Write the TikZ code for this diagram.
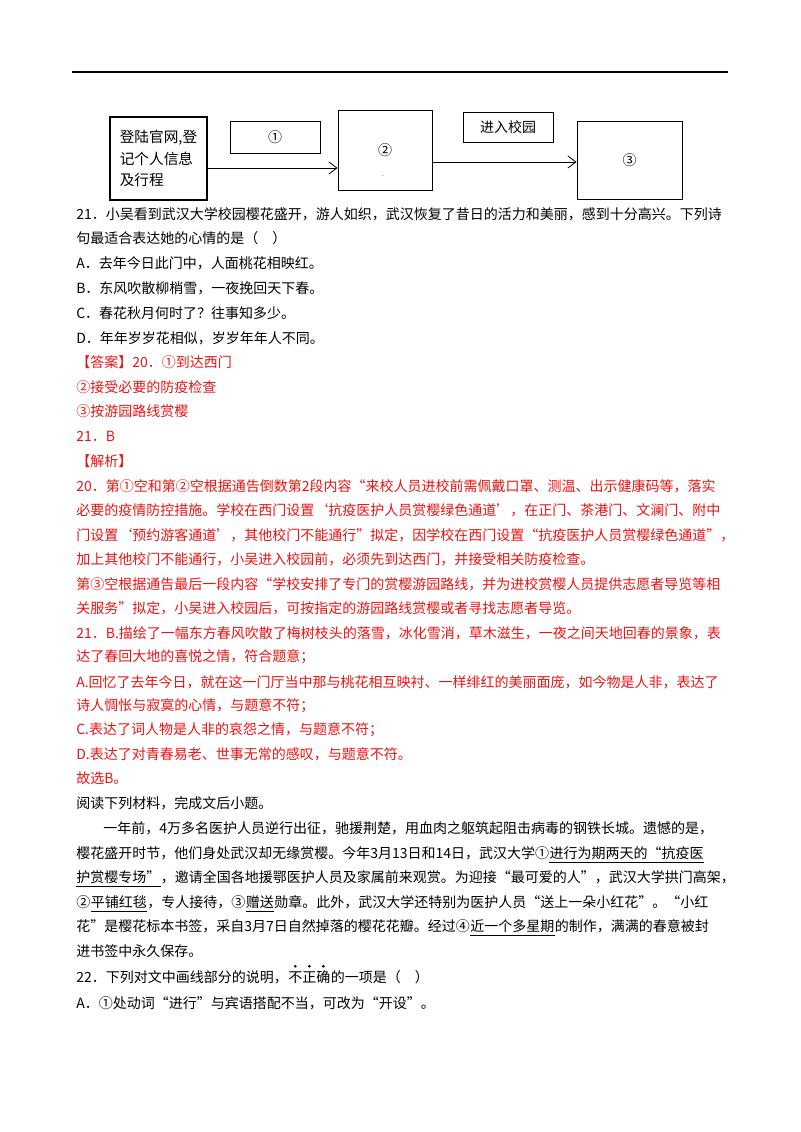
\documentclass[tikz,border=0pt]{standalone}
\usepackage{fontspec}
\setmainfont{Noto Sans CJK SC}
\usetikzlibrary{arrows.meta,positioning,calc}
\definecolor{ans}{RGB}{235,20,20}
\begin{document}
\begin{tikzpicture}[x=0.75pt,y=-0.75pt,
  ln/.style={anchor=west,inner sep=0pt,font=\fontsize{10.5pt}{12pt}\selectfont},
  rd/.style={ln,text=ans},
  seg/.style={anchor=west,inner sep=0pt,font=\fontsize{10.5pt}{12pt}\selectfont},
  bx/.style={draw,line width=0.7pt,inner sep=0pt,font=\fontsize{10.5pt}{12pt}\selectfont},
  arr/.style={draw,line width=0.6pt,-{Straight Barb[length=6pt,width=9pt]}}]
\useasboundingbox (0,0) rectangle (800,1132);
\fill[white] (0,0) rectangle (800,1132);
\draw[line width=1.2pt] (72,72) -- (728,72);
% diagram
\node[bx,line width=1.6pt,minimum width=72.75pt,minimum height=62.25pt,align=left,font=\fontsize{11pt}{16pt}\selectfont] (b1) at (158.5,158.5) {登陆官网,登\\记个人信息\\及行程};
\node[bx,minimum width=67.5pt,minimum height=24pt] (l1) at (275,137) {①};
\node[bx,minimum width=70.5pt,minimum height=60pt] (b2) at (385,150) {②};
\node[inner sep=0pt] (dot) at (383,176) {\tiny.};
\node[bx,minimum width=67.5pt,minimum height=22.5pt] (l2) at (508,127) {进入校园};
\node[bx,minimum width=78.75pt,minimum height=58.5pt] (b3) at (629.5,160) {③};
\draw[arr] (b1.east |- 0,168) -- (b2.west |- 0,168);
\draw[arr] (b2.east |- 0,162) -- (b3.west |- 0,162);
% text
\node[ln] (t1) at (76,214) {21．小吴看到武汉大学校园樱花盛开，游人如织，武汉恢复了昔日的活力和美丽，感到十分高兴。下列诗};
\node[ln] (t2) at (76,238) {句最适合表达她的心情的是（　）};
\node[ln] (t3) at (76,263) {A．去年今日此门中，人面桃花相映红。};
\node[ln] (t4) at (76,288) {B．东风吹散柳梢雪，一夜挽回天下春。};
\node[ln] (t5) at (76,313) {C．春花秋月何时了？往事知多少。};
\node[ln] (t6) at (76,338) {D．年年岁岁花相似，岁岁年年人不同。};
\node[rd] (r1) at (76,362) {【答案】20．①到达西门};
\node[rd] (r2) at (76,387) {②接受必要的防疫检查};
\node[rd] (r3) at (76,411) {③按游园路线赏樱};
\node[rd] (r4) at (76,436) {21．B};
\node[rd] (r5) at (76,461) {【解析】};
\node[rd] (r6) at (76,486) {20．第①空和第②空根据通告倒数第2段内容“来校人员进校前需佩戴口罩、测温、出示健康码等，落实};
\node[rd] (r7) at (76,510) {必要的疫情防控措施。学校在西门设置‘抗疫医护人员赏樱绿色通道’，在正门、茶港门、文澜门、附中};
\node[rd] (r8) at (76,535) {门设置‘预约游客通道’，其他校门不能通行”拟定，因学校在西门设置“抗疫医护人员赏樱绿色通道”，};
\node[rd] (r9) at (76,559) {加上其他校门不能通行，小吴进入校园前，必须先到达西门，并接受相关防疫检查。};
\node[rd] (r10) at (76,584) {第③空根据通告最后一段内容“学校安排了专门的赏樱游园路线，并为进校赏樱人员提供志愿者导览等相};
\node[rd] (r11) at (76,608) {关服务”拟定，小吴进入校园后，可按指定的游园路线赏樱或者寻找志愿者导览。};
\node[rd] (r12) at (76,633) {21．B.描绘了一幅东方春风吹散了梅树枝头的落雪，冰化雪消，草木滋生，一夜之间天地回春的景象，表};
\node[rd] (r13) at (76,657) {达了春回大地的喜悦之情，符合题意；};
\node[rd] (r14) at (76,682) {A.回忆了去年今日，就在这一门厅当中那与桃花相互映衬、一样绯红的美丽面庞，如今物是人非，表达了};
\node[rd] (r15) at (76,706) {诗人惆怅与寂寞的心情，与题意不符；};
\node[rd] (r16) at (76,730) {C.表达了词人物是人非的哀怨之情，与题意不符；};
\node[rd] (r17) at (76,754) {D.表达了对青春易老、世事无常的感叹，与题意不符。};
\node[rd] (r18) at (76,778) {故选B。};
\node[ln] (p0) at (76,803) {阅读下列材料，完成文后小题。};
\node[ln] (p1) at (103,828) {一年前，4万多名医护人员逆行出征，驰援荆楚，用血肉之躯筑起阻击病毒的钢铁长城。遗憾的是，};
\node[seg] (p2a) at (76,853) {樱花盛开时节，他们身处武汉却无缘赏樱。今年3月13日和14日，武汉大学①};
\node[seg,right=0pt of p2a] (p2b) {进行为期两天的“抗疫医};
\node[seg] (p3a) at (76,877) {护赏樱专场”};
\node[seg,right=0pt of p3a] (p3b) {，邀请全国各地援鄂医护人员及家属前来观赏。为迎接“最可爱的人”，武汉大学拱门高架，};
\node[seg] (p4a) at (76,902) {②};
\node[seg,right=0pt of p4a] (p4b) {平铺红毯};
\node[seg,right=0pt of p4b] (p4c) {，专人接待，③};
\node[seg,right=0pt of p4c] (p4d) {赠送};
\node[seg,right=0pt of p4d] (p4e) {勋章。此外，武汉大学还特别为医护人员“送上一朵小红花”。“小红};
\node[seg] (p5a) at (76,926) {花”是樱花标本书签，采自3月7日自然掉落的樱花花瓣。经过④};
\node[seg,right=0pt of p5a] (p5b) {近一个多星期};
\node[seg,right=0pt of p5b] (p5c) {的制作，满满的春意被封};
\node[ln] (p6) at (76,951) {进书签中永久保存。};
\node[seg] (q1) at (76,977) {22．下列对文中画线部分的说明，};
\node[seg,right=0pt of q1] (q2) {不正确};
\node[seg,right=0pt of q2] (q3) {的一项是（　）};
\node[ln] (q4) at (76,1003) {A．①处动词“进行”与宾语搭配不当，可改为“开设”。};
\foreach \n in {p2b,p3a,p4b,p4d,p5b}
  \draw[line width=0.5pt] ([yshift=-2pt]\n.south west) -- ([yshift=-2pt]\n.south east);
\foreach \f in {0.17,0.5,0.83}
  \fill ($(q2.north west)!\f!(q2.north east)+(0,-4)$) circle (1.1pt);
\end{tikzpicture}
\end{document}
